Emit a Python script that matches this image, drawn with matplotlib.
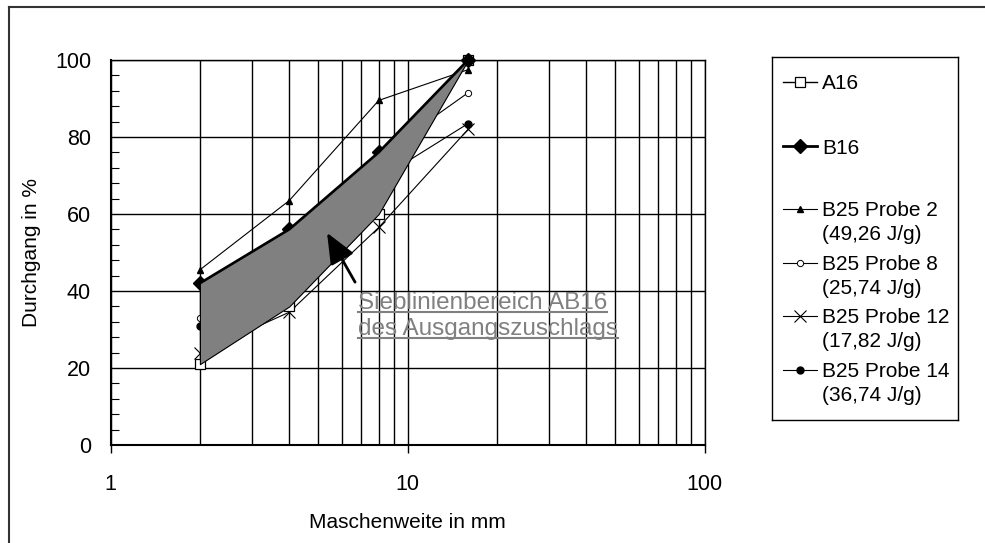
import matplotlib
matplotlib.use('Agg')
import matplotlib.pyplot as plt
from matplotlib.lines import Line2D
from matplotlib.ticker import MultipleLocator, FixedLocator, NullFormatter

plt.rcParams['font.family'] = ['Liberation Sans', 'DejaVu Sans']

# ---- data ----
sieve_mm = [2, 4, 8, 16]
a16 = [21, 36, 60, 100]
b16 = [42, 56, 76, 100]
probe2 = [45.5, 63.5, 89.5, 97.5]
probe8 = [33, 48, 75, 91.5]
probe12 = [24, 34.5, 56.5, 82]
probe14 = [31, 45, 69, 83.5]

labels = ['A16', 'B16', 'B25 Probe 2\n(49,26 J/g)', 'B25 Probe 8\n(25,74 J/g)',
          'B25 Probe 12\n(17,82 J/g)', 'B25 Probe 14\n(36,74 J/g)']
x_ticks = [1, 10, 100]
x_ticklabels = ['1', '10', '100']
y_ticks = [0, 20, 40, 60, 80, 100]
area_text = ['Sieblinienbereich AB16', 'des Ausgangszuschlags']

W, H = 985, 543
fig = plt.figure(figsize=(W / 100, H / 100), dpi=100)
fig.patch.set_facecolor('white')

L, R, T, B = 110.5, 704.5, 60, 445
ax = fig.add_axes([L / W, 1 - B / H, (R - L) / W, (B - T) / H])

styles = [
    dict(marker='s', ms=7, mfc='white', mec='black', mew=0.9, lw=1.0),
    dict(marker='D', ms=7, mfc='black', mec='black', lw=2.0),
    dict(marker='^', ms=5, mfc='black', mec='black', lw=0.8),
    dict(marker='o', ms=4.5, mfc='white', mec='black', mew=0.7, lw=0.8),
    dict(marker='x', ms=9, mec='black', mew=0.8, lw=0.8),
    dict(marker='o', ms=5, mfc='black', mec='black', lw=0.8),
]
series = [a16, b16, probe2, probe8, probe12, probe14]

# probes first, then A16/B16
order = [2, 3, 4, 5, 0, 1]
for i in order:
    ax.plot(sieve_mm, series[i], color='black', zorder=3 + (i < 2), clip_on=False, **styles[i])

# grey area (drawn on top)
ax.fill_between(sieve_mm, a16, b16, facecolor='#808080', edgecolor='black', lw=0.8, zorder=6)

ax.set_xscale('log')
ax.set_xlim(1, 100)
ax.set_ylim(0, 100)
ax.xaxis.set_major_locator(FixedLocator(x_ticks))
ax.set_xticklabels(x_ticklabels)
ax.xaxis.set_minor_locator(FixedLocator([k * d for d in (1, 10) for k in range(2, 10)]))
ax.xaxis.set_minor_formatter(NullFormatter())
ax.set_yticks(y_ticks)
ax.yaxis.set_minor_locator(MultipleLocator(4))

ax.tick_params(axis='x', which='major', direction='out', length=6, width=1, pad=15, labelsize=15.5)
ax.tick_params(axis='x', which='minor', length=0)
ax.tick_params(axis='y', which='major', length=0, pad=14, labelsize=15.5)
ax.tick_params(axis='y', which='minor', direction='in', length=6, width=0.8)

ax.grid(which='both', axis='x', color='black', lw=1.0)
ax.grid(which='major', axis='y', color='black', lw=1.0)
ax.set_axisbelow(True)
for s in ['top', 'right']:
    ax.spines[s].set_linewidth(1.0)
for s in ['left', 'bottom']:
    ax.spines[s].set_linewidth(1.5)

ax.set_ylabel('Durchgang in %', fontsize=15, labelpad=10)
fig.text((L + R) / 2 / W, 1 - 523 / H, 'Maschenweite in mm', fontsize=15, ha='center', va='center')

# arrow annotation
arrow_tail = (6.66, 42.3)
arrow_head = (5.36, 55.1)
ax.annotate('', xy=arrow_head, xytext=arrow_tail,
            arrowprops=dict(arrowstyle='-|>,head_length=0.75,head_width=0.32', lw=2,
                            color='black', mutation_scale=25, shrinkA=0, shrinkB=0),
            zorder=8)

# underlined grey text
txts = []
for j, (line, base) in enumerate(zip(area_text, [309, 335])):
    t = fig.text(358 / W, 1 - base / H, line, fontsize=17.5, color='#808080',
                 ha='left', va='baseline', zorder=9)
    txts.append((t, base))
fig.canvas.draw()
for t, base in txts:
    bb = t.get_window_extent()
    yy = 1 - (base + 3) / H
    fig.add_artist(Line2D([bb.x0 / W, bb.x1 / W], [yy, yy], color='#808080', lw=1.5,
                          transform=fig.transFigure))

# manual legend
lx0, lx1, ly0, ly1 = 772, 958, 57, 420
lax = fig.add_axes([lx0 / W, 1 - ly1 / H, (lx1 - lx0) / W, (ly1 - ly0) / H])
lax.set_xlim(lx0, lx1)
lax.set_ylim(ly1, ly0)
lax.set_xticks([])
lax.set_yticks([])
for s in lax.spines.values():
    s.set_linewidth(1.0)
first_line_y = [81.7, 146, 209, 263, 316, 370]
line_gap = 24
for i, lab in enumerate(labels):
    y = first_line_y[i]
    st = dict(styles[i])
    lax.plot([783, 800, 817], [y, y, y], color='black', markevery=[1], **st)
    for k, part in enumerate(lab.split('\n')):
        lax.text(822, y + k * line_gap, part, fontsize=15, ha='left', va='center_baseline')

# outer frame (left and top)
fig.add_artist(Line2D([8.5 / W, 8.5 / W], [0, 1 - 7 / H], color='#333333', lw=1.5,
                      transform=fig.transFigure))
fig.add_artist(Line2D([8.5 / W, 1], [1 - 7 / H, 1 - 7 / H], color='#333333', lw=1.5,
                      transform=fig.transFigure))

fig.savefig('out.png', dpi=100, facecolor='white')
